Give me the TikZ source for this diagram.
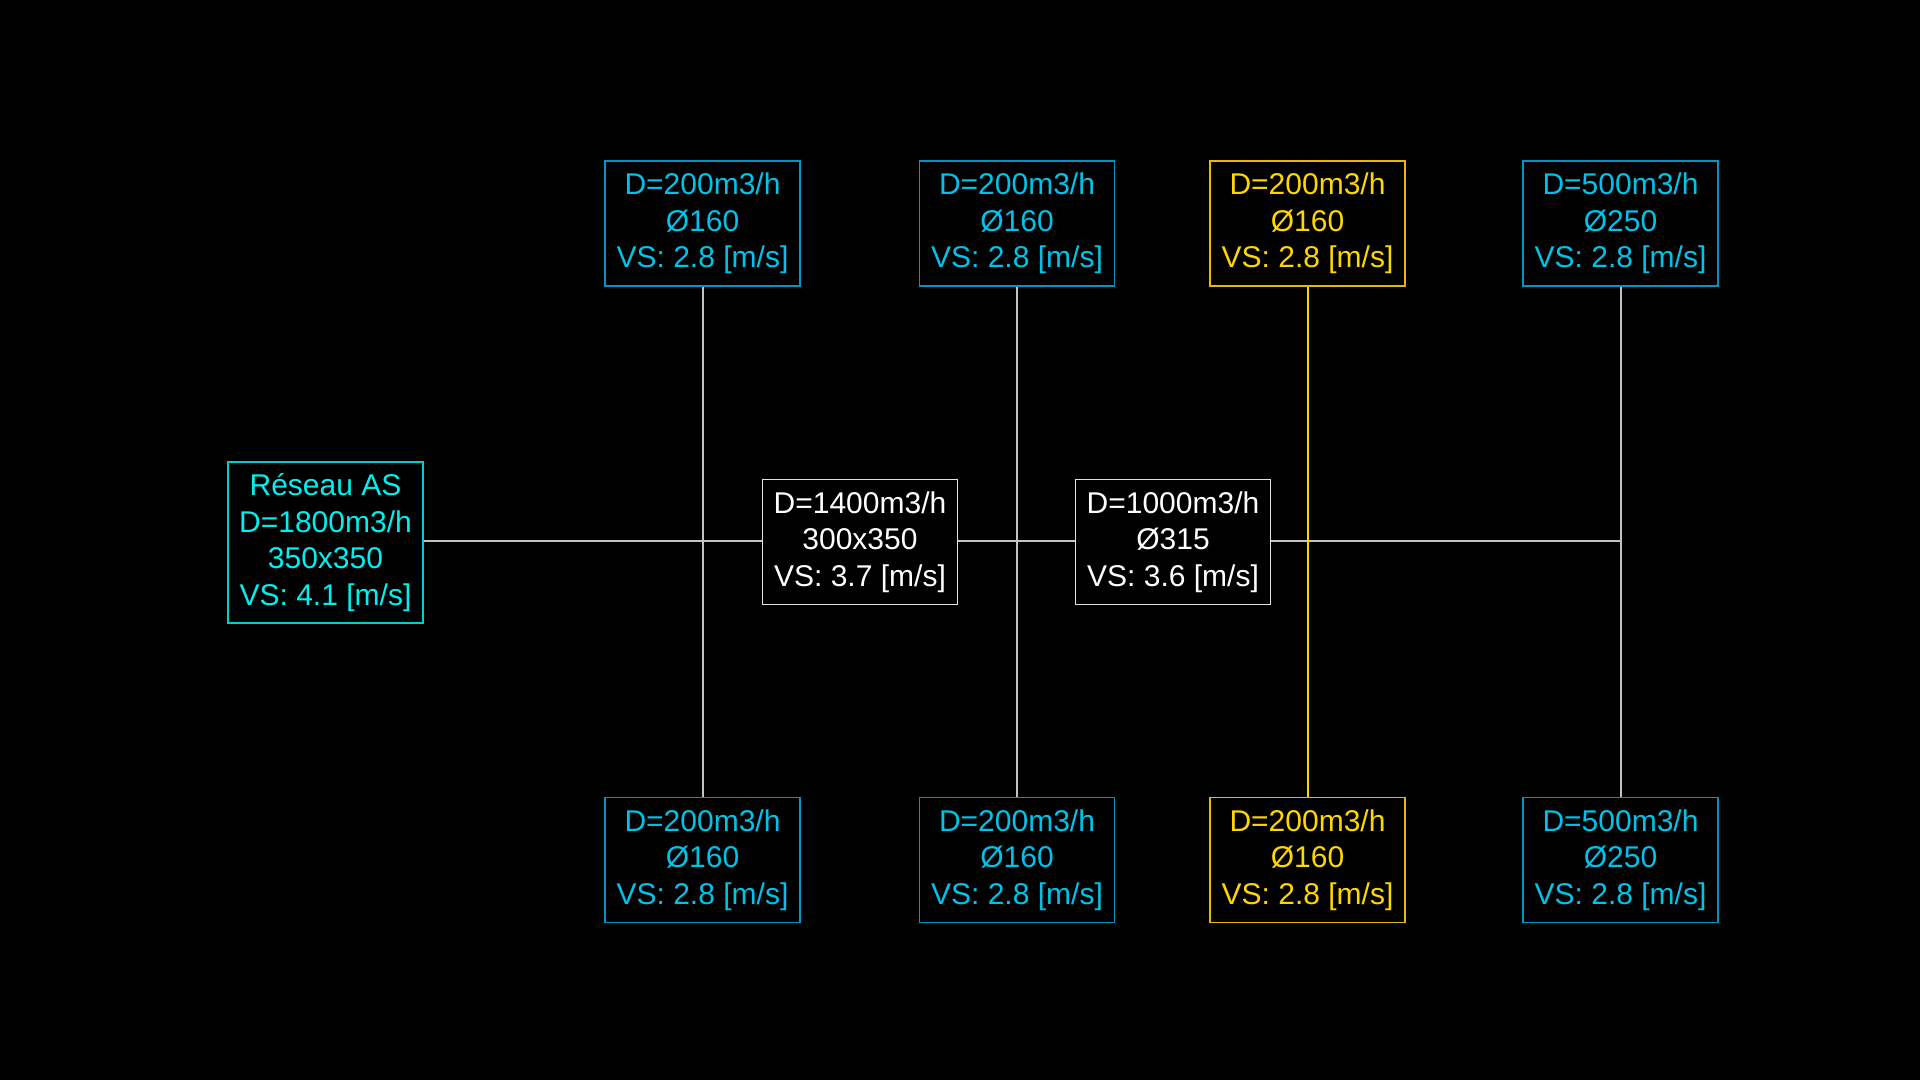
\documentclass[tikz,border=0pt]{standalone}
\usepackage{fontspec}
\setmainfont{Liberation Sans}
\definecolor{bgc}{RGB}{0,0,0}
\definecolor{cyA}{RGB}{0,240,240}
\definecolor{cyAb}{RGB}{0,205,210}
\definecolor{cyB}{RGB}{0,195,235}
\definecolor{cyBb}{RGB}{0,150,195}
\definecolor{ylw}{RGB}{255,214,0}
\definecolor{ylwb}{RGB}{230,185,0}
\definecolor{wht}{RGB}{255,255,255}
\definecolor{whtb}{RGB}{225,225,225}
\definecolor{lineg}{RGB}{195,195,195}
\begin{document}
\begin{tikzpicture}[x=1pt,y=-1pt,
  box/.style={draw, line width=1.3pt, fill=black, minimum width=195pt, minimum height=125pt, inner sep=0pt, align=center,
    font=\fontsize{30}{36.5}\selectfont},
  cbox/.style={box, draw=cyBb, text=cyB},
  ybox/.style={box, draw=ylwb, text=ylw},
  wbox/.style={box, draw=whtb, text=wht},
  rbox/.style={box, draw=cyAb, text=cyA, minimum height=161pt},
  pipe/.style={draw=lineg, line width=2pt},
  ypipe/.style={draw=ylw, line width=2pt}]
\fill[bgc] (0,0) rectangle (1920,1080);
\useasboundingbox (0,0) rectangle (1920,1080);
% nodes
\node[rbox] (res) at (325.5,542.5) {Réseau AS\\D=1800m3/h\\350x350\\VS: 4.1 [m/s]};
\node[wbox] (m1) at (860,542) {D=1400m3/h\\300x350\\VS: 3.7 [m/s]};
\node[wbox] (m2) at (1173,542) {D=1000m3/h\\Ø315\\VS: 3.6 [m/s]};
\node[cbox] (t1) at (702.5,223.5) {D=200m3/h\\Ø160\\VS: 2.8 [m/s]};
\node[cbox] (t2) at (1017,223.5) {D=200m3/h\\Ø160\\VS: 2.8 [m/s]};
\node[ybox] (t3) at (1307.5,223.5) {D=200m3/h\\Ø160\\VS: 2.8 [m/s]};
\node[cbox] (t4) at (1620.5,223.5) {D=500m3/h\\Ø250\\VS: 2.8 [m/s]};
\node[cbox] (b1) at (702.5,860) {D=200m3/h\\Ø160\\VS: 2.8 [m/s]};
\node[cbox] (b2) at (1017,860) {D=200m3/h\\Ø160\\VS: 2.8 [m/s]};
\node[ybox] (b3) at (1307.5,860) {D=200m3/h\\Ø160\\VS: 2.8 [m/s]};
\node[cbox] (b4) at (1620.5,860) {D=500m3/h\\Ø250\\VS: 2.8 [m/s]};
\coordinate (endh) at (1620.5,541);
% connectors
\path[pipe] (res.east |- 0,541) -- (m1.west |- 0,541);
\path[pipe] (m1.east |- 0,541) -- (m2.west |- 0,541);
\path[pipe] (m2.east |- 0,541) -- (endh);
\path[pipe] (t1.south) -- (b1.north);
\path[pipe] (t2.south) -- (b2.north);
\path[ypipe] (t3.south) -- (b3.north);
\path[pipe] (t4.south) -- (b4.north);
\end{tikzpicture}
\end{document}
